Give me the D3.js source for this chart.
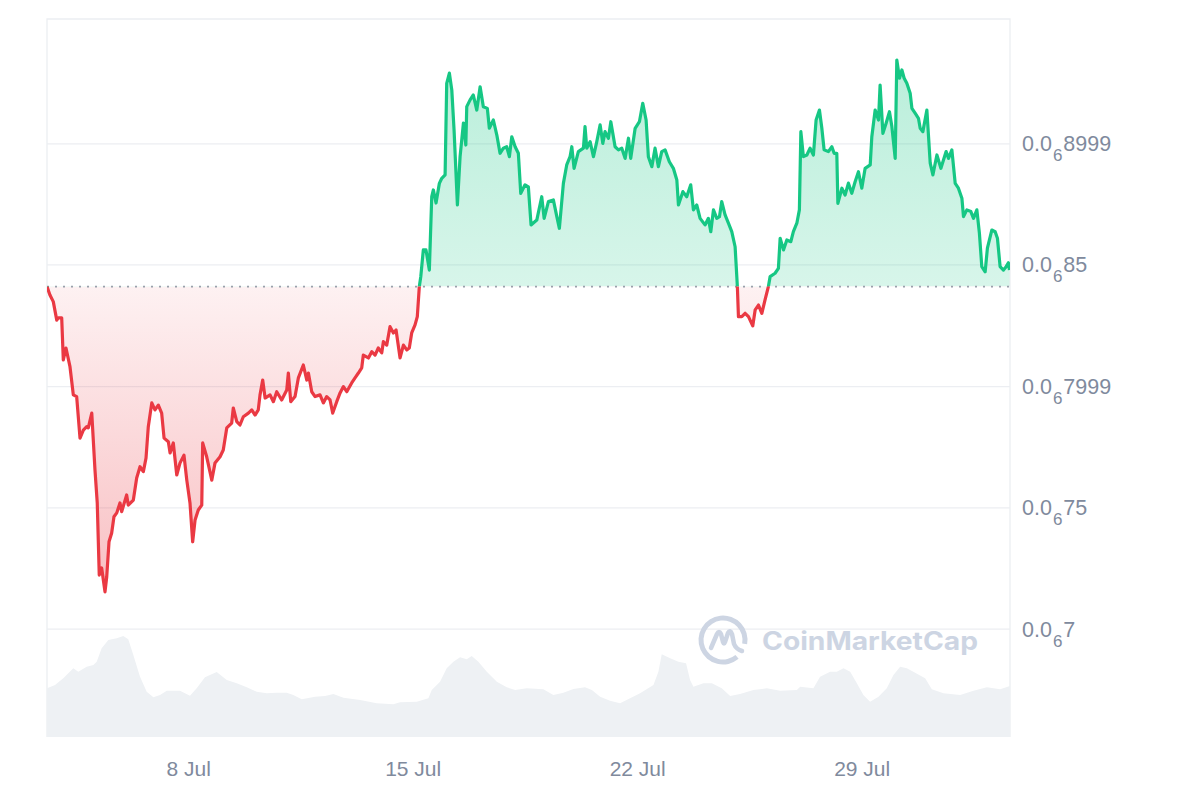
<!DOCTYPE html>
<html><head><meta charset="utf-8">
<script src="https://cdn.jsdelivr.net/npm/d3@7"></script>
<style>html,body{margin:0;padding:0;background:#fff;}svg{display:block;font-family:"Liberation Sans",Arial,sans-serif;}</style>
</head><body><svg id="chart" width="1200" height="800"></svg>
<script>
// Time axis: hours since start; prices in units of 1e-7
const START = new Date(2024, 6, 3, 14, 0);
const SPAN_HOURS = 720.6;
const pricePoints = [
[0,8.411],[2.2,8.376],[4.7,8.349],[7.3,8.273],[8.5,8.282],[11.0,8.282],[12.2,8.109],[14.2,8.158],[17.2,8.081],[19.7,7.965],
[22.2,7.958],[24.7,7.787],[27.2,7.820],[29.7,7.834],[30.9,7.829],[33.5,7.890],[35.9,7.656],[37.6,7.520],[39.1,7.223],[40.9,7.252],
[43.4,7.154],[44.7,7.216],[46.4,7.360],[48.4,7.396],[50.1,7.463],[52.2,7.479],[54.6,7.520],[55.9,7.484],[59.6,7.553],[60.8,7.511],
[64.6,7.532],[67.1,7.623],[69.6,7.669],[72.1,7.649],[74.1,7.705],[75.8,7.834],[78.4,7.932],[80.8,7.903],[83.3,7.923],[85.8,7.890],
[87.6,7.787],[90.8,7.772],[92.1,7.726],[94.5,7.767],[97.1,7.635],[99.5,7.684],[102.5,7.717],[104.6,7.614],[107.0,7.520],[109.0,7.360],
[110.8,7.450],[113.2,7.491],[115.8,7.511],[116.5,7.767],[119.5,7.710],[123.3,7.614],[125.7,7.684],[129.5,7.710],[131.9,7.738],[134.5,7.829],
[138.2,7.849],[139.4,7.911],[142.0,7.855],[144.4,7.841],[146.9,7.875],[150.7,7.890],[153.2,7.903],[155.7,7.882],[158.1,7.903],[159.4,7.965],
[161.4,8.026],[163.2,7.952],[166.9,7.965],[169.4,7.937],[171.9,7.978],[175.6,7.944],[179.4,7.985],[180.6,8.055],[182.4,7.937],[185.6,7.958],
[188.1,8.035],[191.8,8.088],[194.4,8.026],[195.6,8.055],[198.1,7.978],[200.6,7.958],[204.3,7.965],[206.8,7.932],[209.3,7.958],[211.8,7.944],
[213.8,7.890],[216.8,7.937],[219.3,7.973],[221.8,7.999],[224.3,7.978],[228.0,8.014],[230.5,8.035],[233.0,8.055],[235.5,8.076],[236.7,8.129],
[240.5,8.117],[243.0,8.143],[245.5,8.129],[247.9,8.158],[250.5,8.138],[251.7,8.184],[254.2,8.170],[256.7,8.246],[259.2,8.220],[261.2,8.232],
[264.2,8.117],[266.7,8.170],[269.2,8.150],[271.1,8.158],[272.9,8.220],[275.4,8.253],[277.1,8.287],[278.6,8.411],[279.7,8.452],[281.6,8.562],
[283.6,8.562],[286.1,8.479],[287.9,8.781],[289.1,8.809],[291.1,8.755],[293.6,8.836],[295.4,8.857],[297.9,8.871],[299.1,9.248],[301.1,9.290],
[302.9,9.221],[304.6,9.056],[307.1,8.747],[309.1,8.946],[311.6,9.084],[313.4,8.994],[314.1,9.152],[316.6,9.180],[319.0,9.200],[321.6,9.138],
[324.1,9.234],[326.5,9.152],[329.5,9.145],[331.0,9.063],[334.0,9.097],[336.6,9.035],[339.0,8.960],[341.5,8.981],[344.0,8.987],[346.0,8.946],
[347.8,9.028],[350.3,8.987],[352.7,8.960],[354.5,8.795],[357.7,8.830],[360.2,8.822],[362.2,8.665],[366.5,8.685],[370.2,8.781],[372.0,8.692],
[375.2,8.761],[378.9,8.768],[381.5,8.699],[383.4,8.651],[386.4,8.836],[388.9,8.912],[391.4,8.946],[392.7,8.987],[394.4,8.898],[397.6,8.967],
[401.4,8.981],[402.6,9.070],[403.9,8.981],[406.4,9.008],[408.9,8.946],[411.4,9.008],[413.9,9.077],[415.9,9.001],[417.6,9.049],[420.1,9.022],
[421.9,9.090],[425.1,8.987],[427.6,8.974],[430.1,8.981],[432.6,8.939],[435.1,9.022],[436.8,8.939],[440.1,9.063],[443.3,9.090],[445.8,9.166],
[448.3,9.097],[450.0,8.946],[452.6,8.905],[455.0,8.981],[457.5,8.905],[460.0,8.967],[462.5,8.974],[465.7,8.925],[468.7,8.898],[471.3,8.850],
[472.5,8.747],[475.8,8.802],[478.7,8.781],[481.7,8.830],[483.7,8.727],[486.2,8.747],[488.7,8.692],[492.4,8.665],[494.9,8.692],[496.7,8.637],
[498.7,8.727],[501.2,8.692],[503.2,8.699],[504.9,8.761],[507.4,8.706],[509.9,8.672],[512.4,8.637],[514.9,8.575],[516.6,8.411],[517.4,8.287],
[519.9,8.287],[522.4,8.301],[524.9,8.287],[528.1,8.249],[529.9,8.315],[532.4,8.335],[534.9,8.301],[537.3,8.356],[539.8,8.411],[541.1,8.452],
[544.8,8.466],[547.3,8.486],[548.6,8.610],[551.1,8.562],[553.6,8.603],[556.6,8.596],[558.5,8.637],[561.1,8.672],[563.0,8.727],[564.1,9.049],
[566.0,8.946],[568.6,8.953],[571.0,8.981],[573.5,8.953],[575.5,9.097],[578.0,9.138],[579.8,9.063],[581.5,8.974],[584.7,8.967],[587.3,8.987],
[589.0,8.960],[591.0,8.960],[591.8,8.754],[594.8,8.816],[597.2,8.788],[599.7,8.837],[602.2,8.795],[604.7,8.843],[607.2,8.884],[609.7,8.816],
[612.2,8.898],[616.0,8.912],[617.2,9.028],[619.7,9.138],[622.2,9.097],[623.4,9.241],[625.5,9.042],[627.9,9.084],[630.4,9.131],[632.2,9.070],
[634.7,8.939],[635.9,9.344],[637.9,9.269],[639.7,9.303],[641.4,9.269],[643.4,9.248],[645.9,9.207],[647.2,9.145],[649.6,9.125],[652.1,9.104],
[653.4,9.063],[655.4,9.049],[658.4,9.138],[660.9,8.919],[662.9,8.871],[665.9,8.953],[668.9,8.898],[672.8,8.967],[674.6,8.939],[677.1,8.974],
[679.6,8.836],[682.0,8.816],[684.6,8.775],[685.8,8.699],[688.3,8.727],[691.3,8.720],[693.3,8.692],[695.8,8.727],[697.7,8.631],[699.5,8.493],
[702.0,8.472],[703.7,8.569],[707.0,8.644],[709.5,8.637],[711.2,8.610],[713.2,8.493],[715.7,8.479],[717.7,8.493],[719.4,8.509],[720.2,8.479]
];
// Volume (relative units) by hours since start
const volumePoints = [
[0,48.7],[6.0,52],[12.2,58.7],[19.7,68.7],[23.4,65.3],[29.7,70.3],[34.7,72],[37.2,75.3],[40.9,88.7],[45.9,97],
[52.2,98.7],[57.1,101],[60.8,97.7],[64.6,82],[69.6,60.3],[74.6,45.3],[79.6,39.7],[84.6,42],[89.6,46.3],[99.5,46.3],
[107.0,41.3],[112.0,48.7],[118.2,59.7],[127.0,65],[134.5,57],[142.0,53.7],[149.5,49.7],[156.9,45.3],[164.4,43.7],[171.9,44.3],
[179.4,44.3],[184.3,42],[190.6,37.7],[200.6,40.3],[208.1,41],[214.3,43],[221.8,39.3],[234.3,37],[246.7,33.7],[259.2,32.7],
[264.2,34.7],[276.7,35.3],[285.4,38.7],[287.9,47],[294.1,55.3],[299.1,68.7],[304.1,75.3],[309.1,79.7],[314.1,77.7],[317.8,81],
[322.8,75.3],[329.1,65.3],[336.6,55.3],[344.0,49.7],[350.3,47],[359.0,48.7],[371.4,47.7],[378.9,42],[386.4,44.3],[393.9,48],
[402.6,49.7],[407.7,47],[413.9,40.3],[421.3,36.3],[428.8,33.7],[436.3,38.7],[443.8,43.7],[453.8,52],[457.5,65.3],[460.0,82.7],
[466.3,78.7],[472.5,75.3],[478.2,73.7],[481.2,57],[483.7,50.3],[491.2,53.7],[497.5,53.7],[504.9,48.7],[511.2,41],[518.6,43],
[528.6,47],[538.6,48.7],[548.6,46.3],[561.1,47],[563.6,50.3],[573.5,48.7],[578.5,60.3],[586.0,65.3],[591.0,65.3],[596.0,68.7],
[601.0,65.3],[606.0,53.7],[610.9,42],[615.9,35.3],[622.2,40.3],[628.4,48.7],[633.4,62],[638.4,70.3],[643.4,68.7],[649.6,64.3],
[657.1,58.7],[662.1,47.7],[670.8,43.7],[683.3,42],[693.3,46.3],[703.3,49.7],[713.2,47.7],[720.6,51]
];
const yTickValues = [8.999, 8.5, 7.999, 7.5, 7.0];   // ×1e-7
const xTickDates = ["2024-07-08", "2024-07-15", "2024-07-22", "2024-07-29"];

const W = 1200, H = 800;
const L = 47, R = 1010, T = 19, B = 737;
const GREEN = "#16c784", RED = "#ea3943", GRID = "#eceef2", TXT = "#808a9d";

const svg = d3.select("#chart");
const toDate = h => new Date(START.getTime() + h * 3600e3);
const x = d3.scaleTime().domain([START, toDate(SPAN_HOURS)]).range([L, R]);
const y = d3.scaleLinear().domain([6.556, 9.513]).range([B, T]);
const yv = d3.scaleLinear().domain([0, 110]).range([B, B - 110]);
const open = pricePoints[0][1];
const yBase = y(open);

const defs = svg.append("defs");
defs.append("clipPath").attr("id", "clipUp").append("rect").attr("x", L).attr("y", 0).attr("width", R - L).attr("height", yBase);
defs.append("clipPath").attr("id", "clipDown").append("rect").attr("x", L).attr("y", yBase).attr("width", R - L).attr("height", H - yBase);
const gg = defs.append("linearGradient").attr("id", "gGreen").attr("gradientUnits", "userSpaceOnUse")
  .attr("x1", 0).attr("x2", 0).attr("y1", y(9.35)).attr("y2", yBase);
gg.append("stop").attr("offset", 0).attr("stop-color", GREEN).attr("stop-opacity", 0.3);
gg.append("stop").attr("offset", 1).attr("stop-color", GREEN).attr("stop-opacity", 0.17);
const rg = defs.append("linearGradient").attr("id", "gRed").attr("gradientUnits", "userSpaceOnUse")
  .attr("x1", 0).attr("x2", 0).attr("y1", yBase).attr("y2", y(7.15));
rg.append("stop").attr("offset", 0).attr("stop-color", RED).attr("stop-opacity", 0.07);
rg.append("stop").attr("offset", 1).attr("stop-color", RED).attr("stop-opacity", 0.32);

// Gridlines
svg.append("g").selectAll("line").data(yTickValues).join("line")
  .attr("x1", L).attr("x2", R).attr("y1", d => y(d)).attr("y2", d => y(d))
  .attr("stroke", GRID).attr("stroke-width", 1.2);
// Frame (top, left, right)
svg.append("path").attr("d", `M${L},${B}V${T}H${R}V${B}`).attr("fill", "none").attr("stroke", GRID).attr("stroke-width", 1.3);

// Volume area
svg.append("path").datum(volumePoints)
  .attr("d", d3.area().x(d => x(toDate(d[0]))).y0(B).y1(d => yv(d[1])))
  .attr("fill", "#eef1f4");

// Watermark
const wm = svg.append("g").attr("fill", "none").attr("stroke", "#cdd5e3");
const cx = 723, cy = 640;
wm.append("path").attr("transform", `translate(${cx},${cy})`)
  .attr("d", d3.arc().innerRadius(19.5).outerRadius(24.5).startAngle(2.45).endAngle(2.45 + 2 * Math.PI - 0.7)())
  .attr("fill", "#cdd5e3").attr("stroke", "none");
wm.append("path").attr("transform", `translate(${cx},${cy})`)
  .attr("d", "M-12,8 L-6,-6 Q-4,-10 -2,-6 L0,2 Q1,5 2,2 L5,-7 Q7,-11 9,-6 L11,4 Q13,9 19,11")
  .attr("stroke-width", 4.5).attr("stroke-linecap", "round").attr("stroke-linejoin", "round");
svg.append("text").attr("x", 762).attr("y", 650).text("CoinMarketCap")
  .attr("font-family", "Inter, 'Noto Sans', sans-serif").attr("font-weight", 700).attr("font-size", 25)
  .attr("fill", "#cdd5e3").attr("textLength", 216).attr("lengthAdjust", "spacingAndGlyphs");

// Price fills
const area = d3.area().x(d => x(toDate(d[0]))).y0(yBase).y1(d => y(d[1]));
svg.append("path").datum(pricePoints).attr("d", area).attr("fill", "url(#gGreen)").attr("clip-path", "url(#clipUp)");
svg.append("path").datum(pricePoints).attr("d", area).attr("fill", "url(#gRed)").attr("clip-path", "url(#clipDown)");

// Baseline dotted
svg.append("line").attr("x1", L).attr("x2", R).attr("y1", yBase).attr("y2", yBase)
  .attr("stroke", "#9aa0ab").attr("stroke-width", 1.6).attr("stroke-dasharray", "2,6");

// Price lines
const line = d3.line().x(d => x(toDate(d[0]))).y(d => y(d[1]));
svg.append("path").datum(pricePoints).attr("d", line).attr("fill", "none").attr("stroke", GREEN)
  .attr("stroke-width", 3.2).attr("stroke-linejoin", "round").attr("clip-path", "url(#clipUp)");
svg.append("path").datum(pricePoints).attr("d", line).attr("fill", "none").attr("stroke", RED)
  .attr("stroke-width", 3.2).attr("stroke-linejoin", "round").attr("clip-path", "url(#clipDown)");

// Y labels with subscript zero-count notation
function parts(v) {
  const real = v * 1e-7;
  const zeros = Math.floor(-Math.log10(real));
  let sig = Math.round(v * 1000).toString().replace(/0+$/, "");
  return { zeros: zeros, sig: sig };
}
const yl = svg.append("g").attr("fill", TXT).attr("font-size", 21.5);
yTickValues.forEach(v => {
  const p = parts(v);
  const t = yl.append("text").attr("x", 1022).attr("y", y(v) + 7.5);
  t.append("tspan").text("0.0");
  t.append("tspan").attr("font-size", 17).attr("dx", 1).attr("dy", 10).text(p.zeros);
  t.append("tspan").attr("dx", 1).attr("dy", -10).text(p.sig);
});

// X axis labels
const parse = d3.timeParse("%Y-%m-%d");
const fmt = d3.timeFormat("%-d %b");
svg.append("g").selectAll("text").data(xTickDates.map(parse)).join("text")
  .attr("x", d => x(d)).attr("y", 776).attr("text-anchor", "middle")
  .attr("fill", TXT).attr("font-size", 21).text(d => fmt(d));
</script></body></html>
